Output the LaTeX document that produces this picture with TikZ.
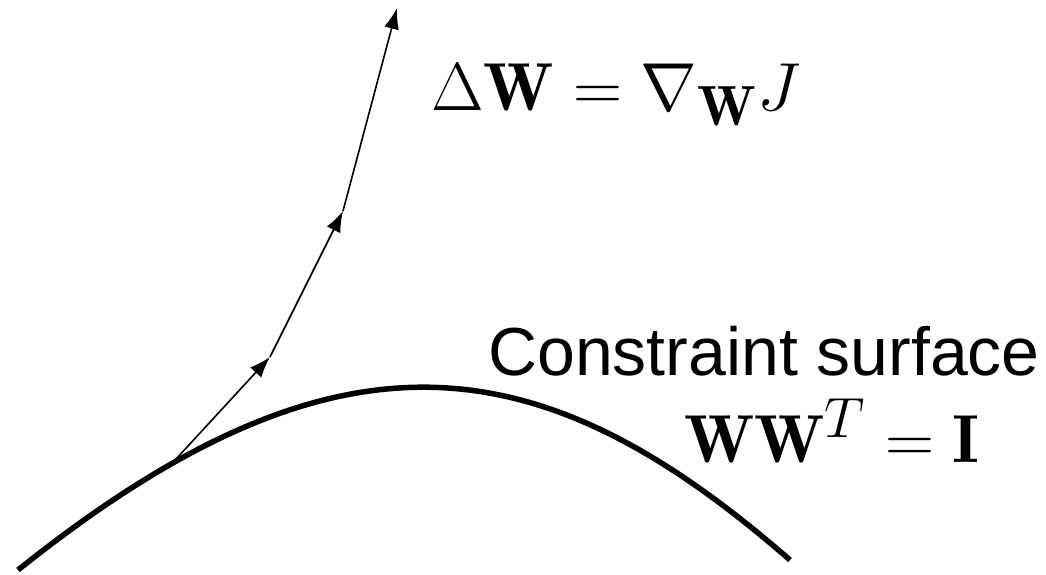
\documentclass[tikz,border=0pt]{standalone}
\usepackage{amsmath}
\usepackage{fontspec}
\newfontfamily\surffont{Liberation Sans}
\usetikzlibrary{arrows.meta}
\newcommand{\bigeq}[1]{\scalebox{2.733}{\Huge $#1$}}
\tikzset{
    gradstep/.style={draw, line width=1.6pt, -{Latex[length=21pt, width=15pt]}},
    surfline/.style={draw, line width=5.5pt},
    eqlabel/.style={anchor=base, inner sep=0pt},
    surflabel/.style={anchor=base, inner sep=0pt, font=\surffont\fontsize{68}{80}\selectfont}
}

\begin{document}
\begin{tikzpicture}[x=1pt, y=-1pt]
    \useasboundingbox (0,0) rectangle (1046,574);
    \coordinate (sleft) at (18,570);
    \coordinate (sright) at (790,560);
    \coordinate (w1) at (270,357);
    \coordinate (w2) at (343,211);
    \coordinate (w3) at (397,8);

    \draw[surfline] (sleft) .. controls (338,314) and (540,342) .. coordinate[pos=0.17] (w0) (sright);
    \draw[gradstep] (w0) -- (w1);
    \draw[gradstep] (w1) -- (w2);
    \draw[gradstep] (w2) -- (w3);

    \node[eqlabel] (update) at (616,110) {\bigeq{\Delta\mathbf{W} = \nabla_{\mathbf{W}} J}};
    \node[surflabel] (surface) at (764,375) {Constraint surface};
    \node[eqlabel] (constraint) at (832,462) {\bigeq{\mathbf{W}\mathbf{W}^T = \mathbf{I}}};
\end{tikzpicture}
\end{document}
